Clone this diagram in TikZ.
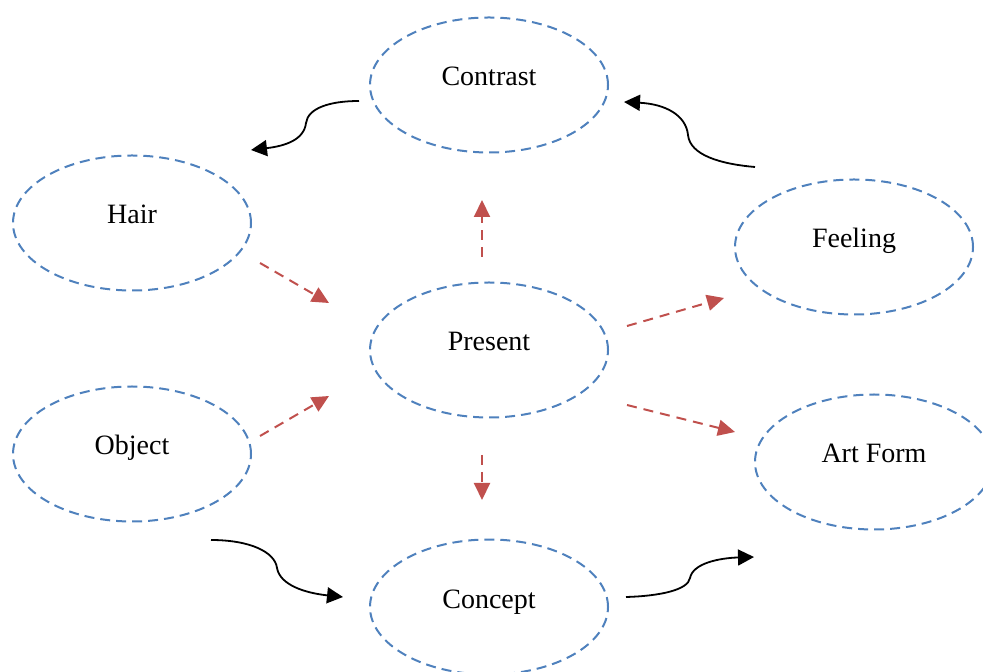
\documentclass[tikz,border=0pt]{standalone}
\usepackage{fontspec}
\setmainfont{Liberation Serif}
\usetikzlibrary{shapes.geometric,arrows.meta}
\definecolor{bubbleblue}{HTML}{4F81BD}
\definecolor{linkred}{HTML}{C0504D}
\begin{document}
\begin{tikzpicture}[x = 0.5pt, y = -0.5pt, font = \fontsize{14}{17}\selectfont,
        bubble/.style = {ellipse, draw = bubbleblue, line width = 1pt, dash pattern = on 5pt off 3pt,
            minimum width = 119pt, minimum height = 67.5pt, inner sep = 0pt, text height = 9pt, text depth = 8pt},
        link/.style = {draw = linkred, line width = 1pt, dash pattern = on 5pt off 3.5pt, -{Triangle[length = 8.5pt, width = 8pt]}},
        flow/.style = {draw = black, line width = 0.9pt, -{Triangle[length = 8pt, width = 8pt]}}]
        \clip (0,0) rectangle (983,672);
        \node[bubble] (contrast) at (489,85) {Contrast};
        \node[bubble] (hair) at (132,223) {Hair};
        \node[bubble] (feeling) at (854,247) {Feeling};
        \node[bubble] (present) at (489,350) {Present};
        \node[bubble] (object) at (132,454) {Object};
        \node[bubble] (artform) at (874,462) {Art Form};
        \node[bubble] (concept) at (489,607) {Concept};
        \coordinate (hairout) at (260,263);
        \coordinate (presentnw) at (329,303);
        \coordinate (objectout) at (260,436);
        \coordinate (presentsw) at (329,396);
        \coordinate (presenttop) at (482,257);
        \coordinate (contrastbelow) at (482,200);
        \coordinate (presentbottom) at (482,455);
        \coordinate (conceptabove) at (482,500);
        \coordinate (presentne) at (627,326);
        \coordinate (feelingin) at (724,298);
        \coordinate (presentse) at (627,405);
        \coordinate (artformin) at (735,432);
        \draw[link] (hairout) -- (presentnw);
        \draw[link] (objectout) -- (presentsw);
        \draw[link] (presenttop) -- (contrastbelow);
        \draw[link] (presentbottom) -- (conceptabove);
        \draw[link] (presentne) -- (feelingin);
        \draw[link] (presentse) -- (artformin);
        \coordinate (contrastout) at (359,101);
        \coordinate (hairin) at (251,150);
        \coordinate (feelingout) at (755,167);
        \coordinate (contrastin) at (624,102);
        \coordinate (objectbelow) at (211,540);
        \coordinate (conceptin) at (343,597);
        \coordinate (conceptout) at (626,597);
        \coordinate (artformbelow) at (754,557);
        \draw[flow] (contrastout) .. controls (330,101) and (308,108) .. (306,123)
            .. controls (304,140) and (285,146) .. (hairin);
        \draw[flow] (feelingout) .. controls (720,164) and (690,155) .. (688,135)
            .. controls (686,115) and (665,104) .. (contrastin);
        \draw[flow] (objectbelow) .. controls (250,540) and (275,552) .. (277,568)
            .. controls (280,585) and (305,593) .. (conceptin);
        \draw[flow] (conceptout) .. controls (660,596) and (688,590) .. (690,578)
            .. controls (693,563) and (720,558) .. (artformbelow);
    \end{tikzpicture}
\end{document}
